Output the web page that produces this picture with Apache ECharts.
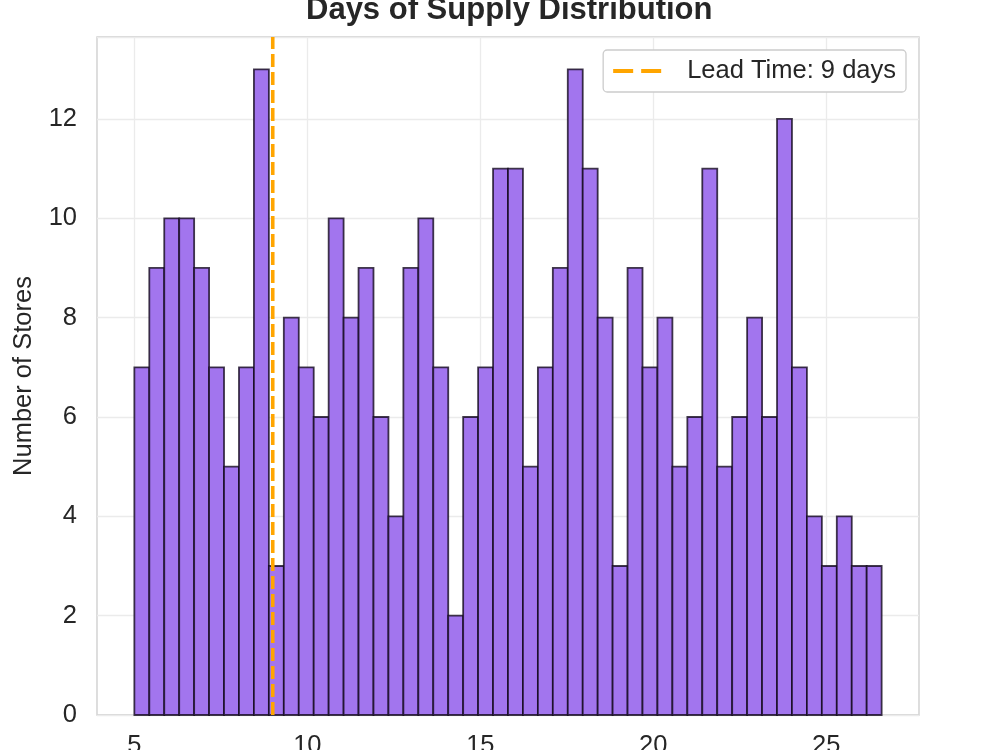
<!DOCTYPE html>
<html>
<head>
<meta charset="utf-8">
<script src="https://cdn.jsdelivr.net/npm/echarts@6/dist/echarts.min.js"></script>
<style>
  html, body { margin: 0; padding: 0; background: #fff; }
  #chart { width: 1000px; height: 750px; }
</style>
</head>
<body>
<div id="chart"></div>
<script>
// histogram counts, 50 bins
const counts = [
  7, 9, 10, 10, 9, 7, 5, 7, 13, 3,
  8, 7, 6, 10, 8, 9, 6, 4, 9, 10,
  7, 2, 6, 7, 11, 11, 5, 7, 9, 13,
  11, 8, 3, 9, 7, 8, 5, 6, 11, 5,
  6, 8, 6, 12, 7, 4, 3, 4, 3, 3
]
const binStart = 5.0
const binWidth = 0.432
const leadTime = 9
const xTicks = [5, 10, 15, 20, 25]
const yTicks = [0, 2, 4, 6, 8, 10, 12]

const bins = counts.map((c, i) => [binStart + i * binWidth, binStart + (i + 1) * binWidth, c])

const textColor = '#262626'
const font = 'Liberation Sans, Arial, sans-serif'

const chart = echarts.init(document.getElementById('chart'))
chart.setOption({
  animation: false,
  title: {
    text: 'Days of Supply Distribution',
    left: 306,
    top: -5,
    padding: 0,
    textStyle: { fontFamily: font, fontSize: 31, fontWeight: 'bold', color: textColor }
  },
  legend: {
    data: ['Lead Time: 9 days'],
    right: 94,
    top: 50,
    padding: [8, 10],
    borderColor: '#cccccc',
    borderWidth: 1.3,
    borderRadius: 4,
    backgroundColor: '#fff',
    itemWidth: 48,
    itemHeight: 4,
    icon: 'path://M0,0 h20 v4 h-20 z M28,0 h20 v4 h-20 z',
    textStyle: { fontFamily: font, fontSize: 25.5, color: textColor, padding: [0, 0, 0, 21] }
  },
  grid: {
    left: 97, right: 81, top: 37, bottom: 35,
    outerBoundsMode: 'none',
    containLabel: false,
    show: true, borderColor: '#cccccc', borderWidth: 1.3
  },
  xAxis: {
    type: 'value',
    min: 3.92,
    max: 27.68,
    splitNumber: 5,
    axisLine: { show: false },
    axisTick: { show: false, customValues: xTicks },
    axisLabel: { customValues: xTicks, fontFamily: font, fontSize: 25.5, color: textColor, margin: 18 },
    splitLine: { show: true, lineStyle: { color: '#ebebeb', width: 1.3 } }
  },
  yAxis: {
    type: 'value',
    min: 0,
    max: 13.65,
    interval: 2,
    name: 'Number of Stores',
    nameLocation: 'middle',
    nameGap: 60,
    nameTextStyle: { fontFamily: font, fontSize: 25.5, color: textColor },
    axisLine: { show: false },
    axisTick: { show: false },
    axisLabel: { customValues: yTicks, fontFamily: font, fontSize: 25.5, color: textColor, margin: 20 },
    splitLine: { show: true, lineStyle: { color: '#ebebeb', width: 1.3 } }
  },
  series: [
    {
      type: 'custom',
      name: 'Stores',
      data: bins,
      encode: { x: [0, 1], y: 2 },
      renderItem: (params, api) => {
        const p0 = api.coord([api.value(0), api.value(2)])
        const p1 = api.coord([api.value(1), 0])
        return {
          type: 'rect',
          shape: { x: p0[0], y: p0[1], width: p1[0] - p0[0], height: p1[1] - p0[1] },
          style: { fill: '#a275ee', stroke: 'rgba(20,10,30,0.8)', lineWidth: 1.8 }
        }
      },
      z: 2
    },
    {
      type: 'line',
      name: 'Lead Time: 9 days',
      data: [[leadTime, 0], [leadTime, 13.65]],
      showSymbol: false,
      lineStyle: { color: '#ffa500', width: 3.6, type: [13, 5] },
      itemStyle: { color: '#ffa500' },
      z: 5
    }
  ]
})
</script>
</body>
</html>
